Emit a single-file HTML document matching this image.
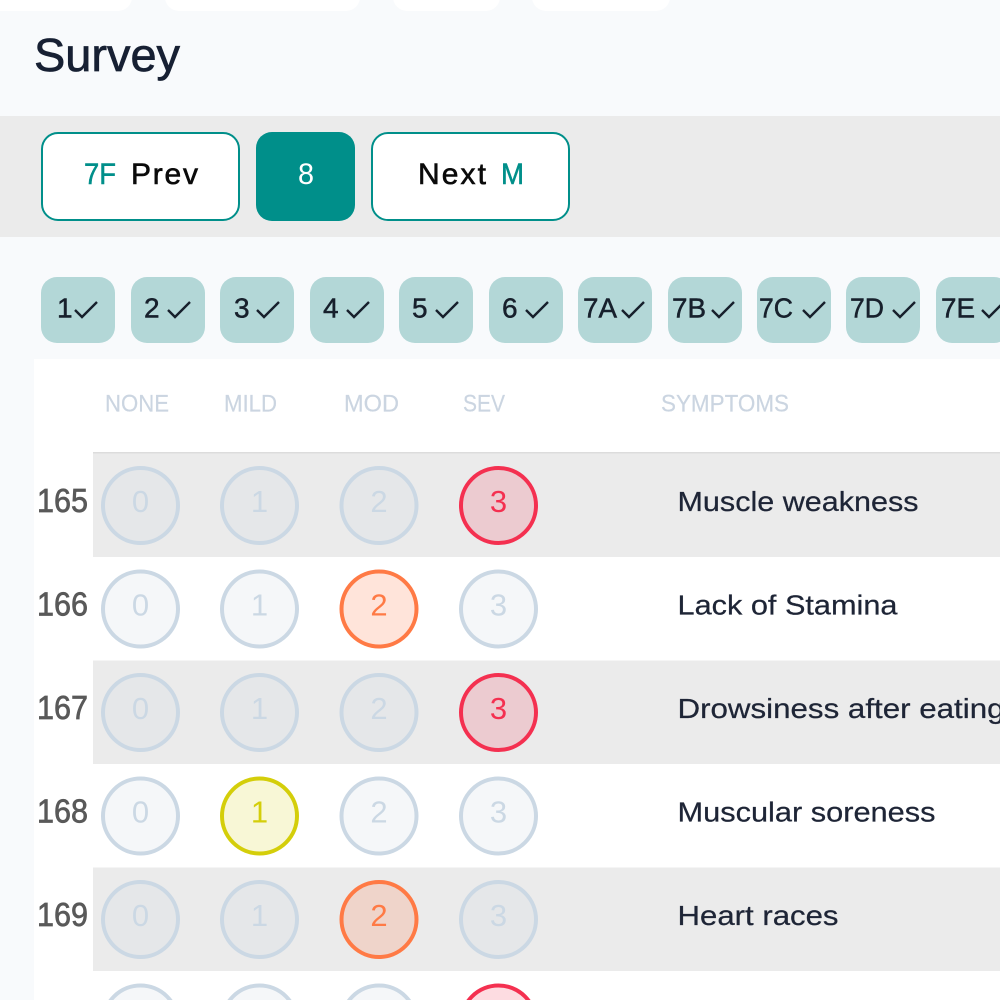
<!DOCTYPE html>
<html lang="en">
<head>
<meta charset="utf-8">
<title>Survey</title>
<style>
html,body{margin:0;padding:0;width:1000px;height:1000px;overflow:hidden;background:#f8fafc}
svg{display:block;font-family:"Liberation Sans",sans-serif}
</style>
</head>
<body>
<svg id="page" width="1000" height="1000" viewBox="0 0 1000 1000" xmlns="http://www.w3.org/2000/svg">
  <rect width="1000" height="1000" fill="#f8fafc"/>
  <rect x="-20" y="-30" width="152" height="41" rx="14" fill="#fff"/>
  <rect x="165" y="-30" width="195" height="41" rx="14" fill="#fff"/>
  <rect x="393" y="-30" width="107" height="41" rx="14" fill="#fff"/>
  <rect x="532" y="-30" width="138" height="41" rx="14" fill="#fff"/>
  <text x="34" y="71" font-size="46" fill="#172033" stroke="#172033" stroke-width="0.7" textLength="146" lengthAdjust="spacingAndGlyphs">Survey</text>

  <rect x="0" y="116" width="1000" height="121" fill="#ebebeb"/>
  <rect x="42" y="133" width="197" height="87" rx="16" fill="#fff" stroke="#008f8a" stroke-width="2"/>
  <text x="84" y="184" font-size="30" fill="#008f8a" stroke="#008f8a" stroke-width="0.5" textLength="32" lengthAdjust="spacingAndGlyphs">7F</text>
  <text x="131" y="184" font-size="30" fill="#0a0a0a" stroke="#0a0a0a" stroke-width="0.6" textLength="67" lengthAdjust="spacing">Prev</text>
  <rect x="256" y="132" width="99" height="89" rx="16" fill="#008f8a"/>
  <text x="298" y="184" font-size="30" fill="#fff" textLength="16" lengthAdjust="spacingAndGlyphs">8</text>
  <rect x="372" y="133" width="197" height="87" rx="16" fill="#fff" stroke="#008f8a" stroke-width="2"/>
  <text x="418" y="184" font-size="30" fill="#0a0a0a" stroke="#0a0a0a" stroke-width="0.6" textLength="68" lengthAdjust="spacing">Next</text>
  <text x="501" y="184" font-size="30" fill="#008f8a" stroke="#008f8a" stroke-width="0.5" textLength="23" lengthAdjust="spacingAndGlyphs">M</text>

  <g id="chips"></g>

  <rect x="34" y="359" width="966" height="641" fill="#fff"/>
  <text x="105" y="411.5" font-size="24" fill="#cbd5e1" stroke="#cbd5e1" stroke-width="0.2" textLength="64" lengthAdjust="spacingAndGlyphs">NONE</text>
  <text x="224" y="411.5" font-size="24" fill="#cbd5e1" stroke="#cbd5e1" stroke-width="0.2" textLength="53" lengthAdjust="spacingAndGlyphs">MILD</text>
  <text x="344" y="411.5" font-size="24" fill="#cbd5e1" stroke="#cbd5e1" stroke-width="0.2" textLength="55" lengthAdjust="spacingAndGlyphs">MOD</text>
  <text x="463" y="411.5" font-size="24" fill="#cbd5e1" stroke="#cbd5e1" stroke-width="0.2" textLength="42" lengthAdjust="spacingAndGlyphs">SEV</text>
  <text x="661" y="411.5" font-size="24" fill="#cbd5e1" stroke="#cbd5e1" stroke-width="0.2" textLength="128" lengthAdjust="spacingAndGlyphs">SYMPTOMS</text>

  <g id="rows"></g>
  <rect x="93" y="452" width="907" height="1.5" fill="#dcdcdc"/>
</svg>

<script>
var chipLabels = ['1','2','3','4','5','6','7A','7B','7C','7D','7E'];
var questionNumbers = [165,166,167,168,169,170];
var symptoms = ['Muscle weakness','Lack of Stamina','Drowsiness after eating','Muscular soreness','Heart races',''];
var symptomWidths = [241,220,327,258,161,0];
var selectedScores = [3,2,3,1,2,3];
var scoreOptions = [0,1,2,3];

var NS = 'http://www.w3.org/2000/svg';
var chipX = [41,131,220,310,399,489,578,668,757,846,936];
var chipTextDx = [16,13,14,13,13,13,5,4,2,4,5];
var chipCheckDx = [33,36,36,36,36,36,43,43,45,46,45];
var columnX = [140.5,259.5,379,498.5];
var scoreStroke = {1:'#d4ce0a',2:'#ff7a45',3:'#f43050'};
var scoreFill = {1:'rgba(212,206,10,.17)',2:'rgba(255,122,69,.2)',3:'rgba(244,48,80,.17)'};

function make(parent, tag, attrs, text) {
  var el = document.createElementNS(NS, tag);
  for (var k in attrs) el.setAttribute(k, attrs[k]);
  if (text !== undefined) el.textContent = text;
  parent.appendChild(el);
  return el;
}

var chipsGroup = document.getElementById('chips');
chipLabels.forEach(function (label, i) {
  var x = chipX[i];
  var chip = make(chipsGroup, 'rect', {x:x, y:277, width:74, height:66, rx:16, fill:'#b3d7d7'});
  
  
  var attrs = {x:x + chipTextDx[i], y:317.5, 'font-size':28, fill:'#17202c', stroke:'#17202c', 'stroke-width':0.5};
  if (label.length > 1) { attrs.textLength = 34; attrs.lengthAdjust = 'spacingAndGlyphs'; }
  var chipText = make(chipsGroup, 'text', attrs, label);
  
  
  var cx = x + chipCheckDx[i];
  var check = make(chipsGroup, 'path', {d:'M' + (cx + 1) + ' 310 L' + (cx + 8) + ' 317 L' + (cx + 23) + ' 302', fill:'none', stroke:'#17202c', 'stroke-width':2.4});
  
  
});

var rowsGroup = document.getElementById('rows');
var ROW_TOP = 453.5, ROW_H = 103.5;
questionNumbers.forEach(function (num, r) {
  var top = ROW_TOP + r * ROW_H;
  var cy = top + 52;
  var shaded = r % 2 === 0;
  if (shaded) {
    var band = make(rowsGroup, 'rect', {x:93, y:top, width:907, height:ROW_H, fill:'#ebebeb'});
    
    
  }
  var numText = make(rowsGroup, 'text', {x:37, y:cy + 6.5, 'font-size':33, fill:'#595959', stroke:'#595959', 'stroke-width':0.7, textLength:51, lengthAdjust:'spacingAndGlyphs'}, String(num));
  
  
  scoreOptions.forEach(function (score, c) {
    var on = selectedScores[r] === score;
    var circle = make(rowsGroup, 'circle', {
      cx:columnX[c], cy:cy, r:37.5,
      fill: on ? scoreFill[score] : 'rgba(203,213,225,.2)',
      stroke: on ? scoreStroke[score] : '#cbd8e4',
      'stroke-width':4
    });
    
    
    var digit = make(rowsGroup, 'text', {
      x:columnX[c], y:cy + 6.5, 'font-size':31, 'text-anchor':'middle',
      fill: on ? scoreStroke[score] : '#cbd8e4'
    }, String(score));
    
    
  });
  if (symptoms[r]) {
    var sym = make(rowsGroup, 'text', {x:677.5, y:cy + 5.5, 'font-size':28, fill:'#1e2536', stroke:'#1e2536', 'stroke-width':0.25, textLength:symptomWidths[r], lengthAdjust:'spacingAndGlyphs'}, symptoms[r]);
    
    
  }
});
</script>
</body>
</html>
